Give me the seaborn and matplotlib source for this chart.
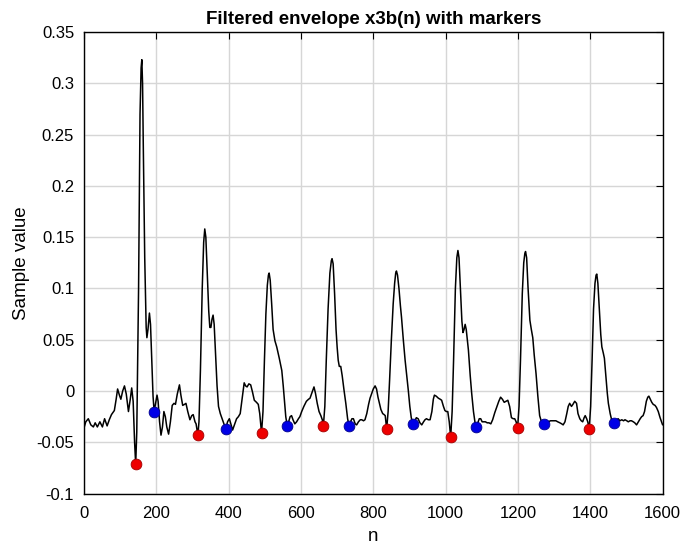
import matplotlib
matplotlib.use("Agg")
import matplotlib.pyplot as plt
import seaborn as sns
import pandas as pd

# Filtered envelope x3b(n)
n_pts = [0, 5, 12, 19, 26, 31, 37, 44, 51, 57, 64, 70, 76, 84, 89, 93, 98, 102, 107, 112,
         117, 123, 128, 132, 136, 140, 143, 146, 151, 155, 158, 160, 162, 164, 168, 172, 174, 177, 181, 184,
         188, 191, 194, 198, 202, 205, 209, 213, 217, 221, 225, 229, 234, 239, 244, 249, 253, 258, 264, 268,
         273, 278, 282, 287, 293, 298, 302, 307, 310, 315, 318, 322, 327, 331, 334, 337, 341, 345, 348, 351,
         354, 357, 360, 364, 368, 372, 377, 382, 387, 392, 397, 402, 406, 411, 416, 422, 427, 432, 437, 443,
         447, 451, 456, 461, 466, 471, 477, 482, 486, 491, 495, 499, 503, 507, 510, 512, 515, 519, 523, 528,
         533, 540, 547, 551, 555, 558, 562, 566, 570, 574, 578, 583, 588, 593, 597, 602, 608, 615, 621, 625,
         630, 636, 640, 645, 650, 655, 659, 662, 666, 670, 675, 680, 684, 686, 689, 693, 697, 700, 703, 706,
         710, 714, 719, 724, 729, 733, 737, 741, 745, 750, 754, 759, 764, 768, 773, 777, 782, 787, 791, 796,
         800, 805, 809, 813, 817, 821, 826, 830, 833, 837, 841, 845, 850, 855, 859, 862, 864, 867, 871, 875,
         878, 883, 888, 892, 897, 901, 905, 910, 914, 919, 924, 929, 934, 939, 943, 947, 952, 957, 962, 966,
         969, 974, 980, 985, 989, 994, 998, 1002, 1006, 1010, 1014, 1018, 1022, 1027, 1031, 1034, 1037, 1041, 1045, 1048,
         1051, 1054, 1057, 1063, 1068, 1072, 1077, 1081, 1085, 1089, 1093, 1097, 1101, 1105, 1110, 1115, 1120, 1125, 1130, 1136,
         1141, 1147, 1152, 1157, 1162, 1167, 1172, 1177, 1182, 1187, 1191, 1195, 1199, 1203, 1207, 1212, 1216, 1219, 1221, 1224,
         1228, 1233, 1237, 1241, 1245, 1250, 1255, 1260, 1265, 1272, 1278, 1284, 1290, 1295, 1300, 1305, 1310, 1316, 1321, 1325,
         1330, 1335, 1339, 1343, 1348, 1352, 1357, 1362, 1366, 1371, 1375, 1379, 1383, 1386, 1390, 1393, 1397, 1401, 1405, 1409,
         1413, 1416, 1418, 1421, 1425, 1429, 1432, 1436, 1439, 1443, 1447, 1450, 1455, 1459, 1466, 1471, 1477, 1482, 1487, 1492,
         1496, 1501, 1505, 1510, 1514, 1519, 1523, 1528, 1533, 1538, 1542, 1546, 1550, 1555, 1559, 1562, 1566, 1570, 1574, 1579,
         1583, 1588, 1593, 1600]
x3b = [-0.036, -0.030, -0.027, -0.033, -0.035, -0.031, -0.035, -0.030, -0.035, -0.027, -0.034, -0.028, -0.023, -0.019, -0.008, 0.002, -0.004, -0.008, 0.000, 0.005,
       -0.003, -0.020, -0.008, 0.003, -0.010, -0.050, -0.0715, -0.040, 0.100, 0.270, 0.315, 0.323, 0.300, 0.240, 0.130, 0.062, 0.052, 0.060, 0.076, 0.065,
       0.025, -0.005, -0.020, -0.012, -0.004, -0.010, -0.030, -0.043, -0.035, -0.020, -0.025, -0.035, -0.042, -0.030, -0.014, -0.012, -0.013, -0.003, 0.006, -0.004,
       -0.014, -0.013, -0.012, -0.020, -0.028, -0.024, -0.023, -0.030, -0.032, -0.043, -0.030, 0.020, 0.100, 0.145, 0.158, 0.150, 0.115, 0.078, 0.062, 0.062,
       0.070, 0.074, 0.065, 0.035, 0.005, -0.015, -0.022, -0.027, -0.032, -0.037, -0.030, -0.027, -0.032, -0.038, -0.033, -0.027, -0.025, -0.022, -0.008, 0.008,
       0.005, 0.004, 0.007, 0.006, -0.001, -0.009, -0.011, -0.013, -0.022, -0.041, -0.020, 0.030, 0.075, 0.103, 0.113, 0.115, 0.108, 0.085, 0.060, 0.049,
       0.043, 0.032, 0.020, 0.005, -0.012, -0.025, -0.034, -0.030, -0.025, -0.024, -0.028, -0.032, -0.030, -0.027, -0.025, -0.020, -0.015, -0.010, -0.008, -0.007,
       -0.002, 0.004, -0.002, -0.012, -0.020, -0.024, -0.028, -0.034, -0.015, 0.030, 0.080, 0.115, 0.127, 0.129, 0.124, 0.095, 0.060, 0.043, 0.030, 0.024,
       0.024, 0.015, 0.001, -0.012, -0.027, -0.034, -0.030, -0.027, -0.027, -0.032, -0.033, -0.030, -0.028, -0.028, -0.029, -0.028, -0.022, -0.013, -0.007, -0.002,
       0.002, 0.005, 0.002, -0.006, -0.012, -0.018, -0.022, -0.023, -0.024, -0.037, -0.020, 0.010, 0.050, 0.085, 0.105, 0.115, 0.117, 0.113, 0.100, 0.083,
       0.072, 0.050, 0.030, 0.017, 0.000, -0.015, -0.026, -0.032, -0.030, -0.026, -0.027, -0.031, -0.033, -0.030, -0.028, -0.027, -0.028, -0.028, -0.020, -0.008,
       -0.004, -0.005, -0.007, -0.008, -0.009, -0.015, -0.019, -0.020, -0.020, -0.030, -0.045, -0.020, 0.030, 0.100, 0.130, 0.137, 0.130, 0.100, 0.068, 0.057,
       0.060, 0.065, 0.060, 0.040, 0.015, -0.002, -0.020, -0.030, -0.035, -0.031, -0.027, -0.027, -0.030, -0.030, -0.030, -0.031, -0.031, -0.032, -0.028, -0.021,
       -0.016, -0.010, -0.006, -0.008, -0.011, -0.010, -0.009, -0.015, -0.026, -0.027, -0.027, -0.030, -0.036, -0.015, 0.030, 0.095, 0.125, 0.134, 0.136, 0.130,
       0.100, 0.069, 0.060, 0.052, 0.035, 0.017, -0.005, -0.024, -0.030, -0.032, -0.031, -0.030, -0.029, -0.029, -0.029, -0.029, -0.030, -0.031, -0.032, -0.033,
       -0.030, -0.022, -0.015, -0.012, -0.015, -0.013, -0.010, -0.012, -0.022, -0.027, -0.029, -0.030, -0.026, -0.024, -0.027, -0.030, -0.037, -0.015, 0.030, 0.080,
       0.105, 0.113, 0.114, 0.105, 0.080, 0.055, 0.043, 0.037, 0.032, 0.015, -0.002, -0.012, -0.022, -0.028, -0.0315, -0.029, -0.027, -0.029, -0.028, -0.029,
       -0.028, -0.029, -0.030, -0.029, -0.029, -0.030, -0.031, -0.033, -0.030, -0.027, -0.025, -0.024, -0.020, -0.010, -0.006, -0.005, -0.008, -0.011, -0.013, -0.014,
       -0.016, -0.020, -0.026, -0.033]

# marker positions
red_n = [143, 315, 491, 662, 837, 1014, 1199, 1397]
red_val = [-0.0715, -0.043, -0.041, -0.034, -0.037, -0.045, -0.036, -0.037]
blue_n = [194, 392, 562, 733, 910, 1085, 1272, 1466]
blue_val = [-0.020, -0.037, -0.034, -0.034, -0.032, -0.035, -0.032, -0.0315]

xticks = [0, 200, 400, 600, 800, 1000, 1200, 1400, 1600]
yticks = [-0.1, -0.05, 0, 0.05, 0.1, 0.15, 0.2, 0.25, 0.3, 0.35]
ytick_labels = ["-0.1", "-0.05", "0", "0.05", "0.1", "0.15", "0.2", "0.25", "0.3", "0.35"]

env = pd.DataFrame({"n": n_pts, "x3b": x3b})

sns.set_theme(style="whitegrid")
plt.rcParams["font.family"] = ["Liberation Sans", "DejaVu Sans"]
plt.rcParams["text.color"] = "black"
plt.rcParams["axes.labelcolor"] = "black"

fig = plt.figure(figsize=(6.81, 5.49), dpi=100)
ax = fig.add_axes([0.1233, 0.1009, 0.8497, 0.8408])

sns.lineplot(data=env, x="n", y="x3b", color="black", linewidth=1.1, sort=False, ax=ax)
sns.scatterplot(x=red_n, y=red_val, color="#ee0000", edgecolor="#a00000", linewidth=0.6, s=60, zorder=3, ax=ax)
sns.scatterplot(x=blue_n, y=blue_val, color="#0000e6", edgecolor="#00008a", linewidth=0.6, s=60, zorder=3, ax=ax)

ax.set_xlim(0, 1600)
ax.set_ylim(-0.1, 0.35)
ax.set_xticks(xticks)
ax.set_yticks(yticks)
ax.set_yticklabels(ytick_labels)
ax.grid(True, color="#d6d6d6", linewidth=1.0)
ax.set_axisbelow(True)
for side in ax.spines.values():
    side.set_color("black")
    side.set_linewidth(1.0)
ax.tick_params(direction="in", length=5, width=0.8, color="black", labelsize=12,
               top=True, right=True, labelcolor="black")
ax.tick_params(axis="x", pad=9)
ax.tick_params(axis="y", pad=7)

ax.set_title("Filtered envelope x3b(n) with markers", fontsize=13.5, fontweight="bold",
             color="black", pad=6)
ax.set_xlabel("n", fontsize=13.5, labelpad=5)
ax.set_ylabel("Sample value", fontsize=13.5, labelpad=5)

fig.savefig("out.png", dpi=100)
